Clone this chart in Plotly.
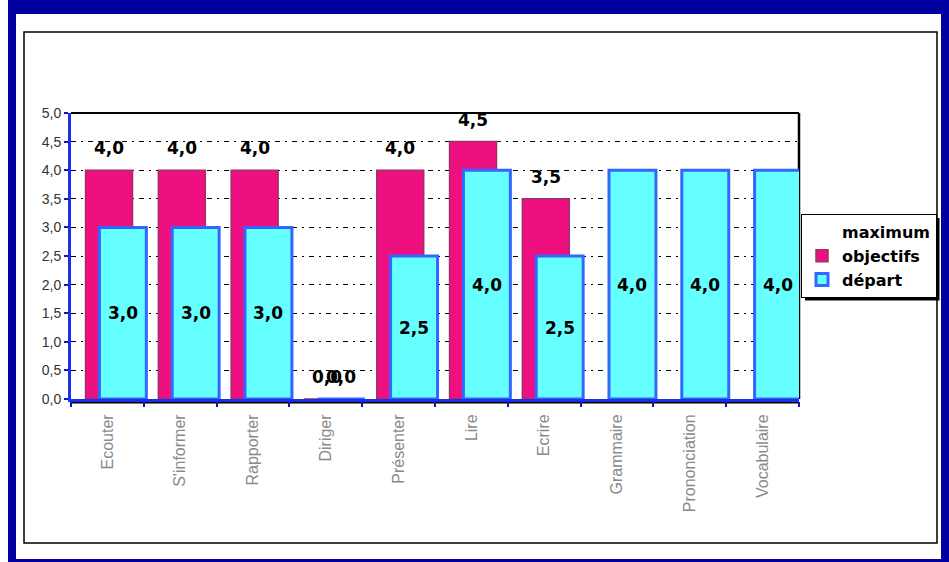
import plotly.graph_objects as go

# ---------------- data ----------------
categories = ["Ecouter", "S'informer", "Rapporter", "Diriger", "Présenter",
              "Lire", "Ecrire", "Grammaire", "Prononciation", "Vocabulaire"]
objectifs = [4.0, 4.0, 4.0, 0.0, 4.0, 4.5, 3.5, None, None, None]
depart = [3.0, 3.0, 3.0, 0.0, 2.5, 4.0, 2.5, 4.0, 4.0, 4.0]
y_ticks = [0, 0.5, 1, 1.5, 2, 2.5, 3, 3.5, 4, 4.5, 5]

# ---------------- geometry helpers (pixels -> paper) ----------------
PL, PR, PT, PB = 71, 799, 113, 399
W, H = PR - PL, PB - PT


def fx(px):
    return (px - PL) / W


def fy(py):
    return (PB - py) / H


MAG_OFF, CYA_OFF, BW = -0.30, -0.11, 0.645
LABEL_FONT = dict(family="DejaVu Sans", size=17, color="black", weight="bold")


def fmt(v):
    return f"{v:.1f}".replace(".", ",")


fig = go.Figure()

# legend-only entry "maximum"
fig.add_trace(go.Bar(
    x=categories, y=[None] * len(categories), name="maximum",
    marker=dict(color="rgba(0,0,0,0)", line=dict(width=0)),
    hoverinfo="skip"))

fig.add_trace(go.Bar(
    x=categories, y=objectifs, name="objectifs",
    offset=MAG_OFF, width=BW,
    marker=dict(color="#EE1080", line=dict(color="#993366", width=1.5))))

fig.add_trace(go.Bar(
    x=categories, y=depart, name="départ",
    offset=CYA_OFF, width=BW,
    marker=dict(color="#66FFFF", line=dict(color="#3366FF", width=3))))

# data labels
annotations = []
for i, v in enumerate(objectifs):
    if v is None:
        continue
    annotations.append(dict(
        x=i + MAG_OFF + BW / 2, y=v, xref="x", yref="y", text=fmt(v),
        showarrow=False, yanchor="bottom", yshift=10, font=LABEL_FONT))
for i, v in enumerate(depart):
    if v is None:
        continue
    if v > 0:
        annotations.append(dict(
            x=i + CYA_OFF + BW / 2, y=v / 2, xref="x", yref="y", text=fmt(v),
            showarrow=False, yanchor="middle", font=LABEL_FONT))
    else:
        annotations.append(dict(
            x=i + CYA_OFF + BW / 2, y=v, xref="x", yref="y", text=fmt(v),
            showarrow=False, yanchor="bottom", yshift=10, font=LABEL_FONT))

shapes = [
    # outer dark-blue frame
    dict(type="rect", xref="paper", yref="paper",
         x0=fx(8), x1=fx(960), y0=fy(575), y1=fy(-10),
         fillcolor="#0000A0", line=dict(width=0), layer="below"),
    dict(type="rect", xref="paper", yref="paper",
         x0=fx(16), x1=fx(941), y0=fy(559), y1=fy(14),
         fillcolor="white", line=dict(width=0), layer="below"),
    # inner black-bordered chart area
    dict(type="rect", xref="paper", yref="paper",
         x0=fx(24), x1=fx(937), y0=fy(543), y1=fy(32),
         fillcolor="white", line=dict(color="black", width=1.5), layer="below"),
    # plot-area top & right border
    dict(type="line", xref="paper", yref="paper", x0=0, x1=1, y0=1, y1=1,
         line=dict(color="black", width=2), layer="below"),
    dict(type="line", xref="paper", yref="paper", x0=1, x1=1, y0=0, y1=1,
         line=dict(color="black", width=2.5), layer="below"),
    # floor edge under the axis
    dict(type="line", xref="paper", yref="paper", x0=0, x1=1, y0=fy(402.5), y1=fy(402.5),
         line=dict(color="black", width=2), layer="below"),
    # legend shadow
    dict(type="rect", xref="paper", yref="paper",
         x0=fx(805), x1=fx(939.5), y0=fy(300.5), y1=fy(218),
         fillcolor="black", line=dict(width=0), layer="above"),
]

fig.update_layout(
    width=949, height=562,
    margin=dict(l=PL, r=949 - PR, t=PT, b=562 - PB, pad=0, autoexpand=False),
    paper_bgcolor="white", plot_bgcolor="rgba(0,0,0,0)",
    barmode="overlay",
    separators=", ",
    showlegend=True,
    legend=dict(x=fx(801), y=fy(214), xanchor="left", yanchor="top",
                bgcolor="white", bordercolor="black", borderwidth=1,
                font=dict(family="DejaVu Sans", size=16, color="black", weight="bold"),
                traceorder="normal", tracegroupgap=0),
    annotations=annotations,
    shapes=shapes,
    font=dict(family="Liberation Sans"),
)

fig.update_xaxes(
    type="category", range=[-0.5, 9.5],
    showline=True, linecolor="#1A2FE8", linewidth=3,
    ticks="outside", tickson="boundaries", ticklen=5, tickwidth=2, tickcolor="#1010D0",
    tickangle=-90, ticklabelstandoff=6,
    tickfont=dict(family="Liberation Sans", size=16, color="#8A8A8A"),
    showgrid=False, zeroline=False)

fig.update_yaxes(
    range=[0, 5], tickvals=y_ticks, tickformat=".1f",
    showline=True, linecolor="#1A2FE8", linewidth=3,
    ticks="outside", ticklen=4, tickwidth=2, tickcolor="#1010D0",
    tickfont=dict(family="Liberation Sans", size=14, color="#333333"),
    showgrid=True, gridcolor="black", gridwidth=1, griddash="5px,5px,2px,5px",
    zeroline=False)

fig.write_html("out.html",
               config={"displayModeBar": False},
               post_script="document.body.style.margin='0';document.body.style.overflow='hidden';")
